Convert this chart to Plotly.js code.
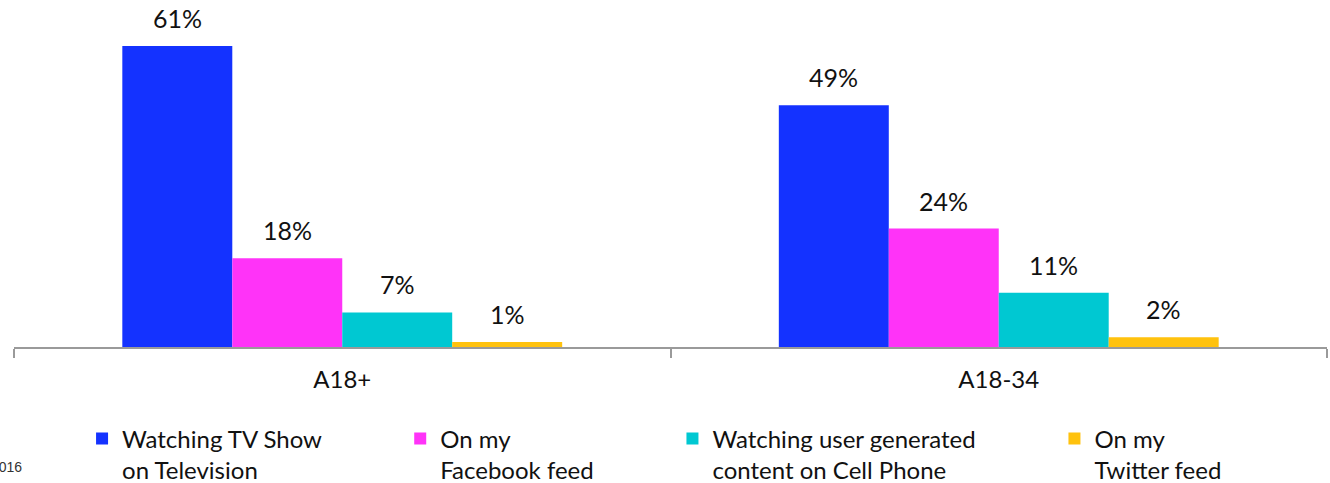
<!DOCTYPE html>
<html>
<head>
<meta charset="utf-8">
<script src="https://cdn.plot.ly/plotly-3.0.1.min.js"></script>
<style>
html,body{margin:0;padding:0;background:#fff;}
#chart{width:1330px;height:483px;}
</style>
</head>
<body>
<div id="chart"></div>
<script>
const categories = ['A18+', 'A18-34'];
const seriesNames = [
  ['Watching TV Show', 'on Television'],
  ['On my', 'Facebook feed'],
  ['Watching user generated', 'content on Cell Phone'],
  ['On my', 'Twitter feed']
];
const watchingTV = [61, 49];
const facebookFeed = [18, 24];
const userGenerated = [7, 11];
const twitterFeed = [1, 2];
const seriesValues = [watchingTV, facebookFeed, userGenerated, twitterFeed];
const seriesColors = ['#1432FF', '#FF33F8', '#00C8D2', '#FFC20E'];
const sourceText = '2016';

const FONT = 'Lato, "Open Sans", sans-serif';
const BARGAP = 0.33;
const pad = '\u00a0'.repeat(12);

const traces = seriesValues.map((vals, i) => ({
  type: 'bar',
  name: seriesNames[i].map(s => s + pad).join('<br>'),
  x: categories,
  y: vals,
  marker: {color: seriesColors[i]},
  hoverinfo: 'x+y'
}));

// value labels placed on the data scale above each bar
const n = seriesValues.length;
const labelAnnotations = [];
seriesValues.forEach((vals, j) => {
  vals.forEach((v, c) => {
    labelAnnotations.push({
      xref: 'x', yref: 'y',
      x: c + ((j + 0.5) / n - 0.5) * (1 - BARGAP),
      y: v, text: v + '%',
      xanchor: 'center', yanchor: 'bottom', yshift: 11,
      showarrow: false,
      font: {family: FONT, size: 25, color: '#111'}
    });
  });
});

const layout = {
  width: 1330, height: 483,
  margin: {l: 14, r: 3, t: 10, b: 136},
  paper_bgcolor: '#fff', plot_bgcolor: '#fff',
  barmode: 'group', bargap: BARGAP, bargroupgap: 0,
  font: {family: FONT, color: '#111'},
  xaxis: {
    type: 'category',
    showline: true, linecolor: '#9a9a9a', linewidth: 2,
    ticks: 'outside', tickson: 'boundaries', ticklen: 9, tickwidth: 2, tickcolor: '#9a9a9a',
    tickfont: {family: FONT, size: 24, color: '#111'},
    ticklabelstandoff: 10,
    showgrid: false, zeroline: false
  },
  yaxis: {
    range: [0, 68.3], showgrid: false, zeroline: false,
    showticklabels: false, showline: false, ticks: ''
  },
  showlegend: true,
  legend: {
    orientation: 'h', xref: 'container', yref: 'container',
    x: 0.0617, y: 0.138, xanchor: 'left', yanchor: 'top',
    valign: 'top', traceorder: 'normal',
    font: {family: FONT, size: 24, color: '#111'},
    itemwidth: 30
  },
  annotations: labelAnnotations.concat([{
    text: sourceText, xref: 'paper', yref: 'paper',
    x: 0.0076, y: -0.356, xanchor: 'right', yanchor: 'middle',
    showarrow: false, font: {family: 'Arial, sans-serif', size: 14, color: '#333'}
  }])
};

Plotly.newPlot('chart', traces, layout, {displayModeBar: false, staticPlot: true});
</script>
</body>
</html>
